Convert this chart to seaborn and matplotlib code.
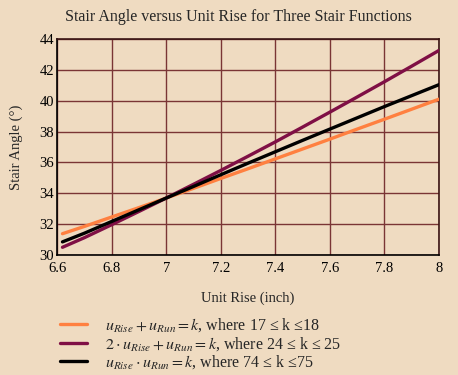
import matplotlib
matplotlib.use("Agg")
import matplotlib.pyplot as plt
import seaborn as sns
import pandas as pd
from matplotlib.lines import Line2D

# ---- data ----
unit_rise = [6.62, 6.7, 6.8, 6.9, 7.0, 7.1, 7.2, 7.3, 7.4, 7.5, 7.6, 7.7, 7.8, 7.9, 8.0]
angle_sum = [31.38, 31.85, 32.46, 33.07, 33.69, 34.32, 34.96, 35.59, 36.23, 36.87,
             37.51, 38.16, 38.80, 39.45, 40.10]
angle_double = [30.50, 31.12, 31.96, 32.82, 33.69, 34.58, 35.48, 36.40, 37.33, 38.29,
                39.26, 40.24, 41.23, 42.24, 43.26]
angle_product = [30.85, 31.41, 32.17, 32.93, 33.69, 34.44, 35.20, 35.95, 36.69, 37.43,
                 38.16, 38.89, 39.62, 40.33, 41.04]
series_names = ["sum", "double", "product"]
series_labels = [
    r"$u_{Rise}+u_{Run}=k$, where 17 ≤ k ≤18",
    r"$2\cdot u_{Rise}+u_{Run}=k$, where 24 ≤ k ≤ 25",
    r"$u_{Rise}\cdot u_{Run}=k$, where 74 ≤ k ≤75",
]
x_ticks = [6.6, 6.8, 7.0, 7.2, 7.4, 7.6, 7.8, 8.0]
x_tick_labels = ["6.6", "6.8", "7", "7.2", "7.4", "7.6", "7.8", "8"]
y_ticks = [30, 32, 34, 36, 38, 40, 42, 44]

colors = ["#FF8040", "#7F0F45", "#000000"]
bg = "#EFDBC1"
grid_c = "#7A3535"

df = pd.DataFrame({
    "rise": unit_rise * 3,
    "angle": angle_sum + angle_double + angle_product,
    "series": [series_names[0]] * len(unit_rise) + [series_names[1]] * len(unit_rise)
              + [series_names[2]] * len(unit_rise),
})

sns.set_theme(style="white")
plt.rcParams["font.family"] = ["Liberation Serif", "DejaVu Serif"]
plt.rcParams["mathtext.fontset"] = "stix"

fig = plt.figure(figsize=(4.58, 3.75), dpi=100, facecolor=bg)
ax = fig.add_axes([0.1245, 0.32, 0.834, 0.576])
ax.set_facecolor(bg)

sns.lineplot(data=df, x="rise", y="angle", hue="series", palette=dict(zip(series_names, colors)),
             linewidth=2.4, ax=ax, legend=False, zorder=3)

ax.set_xlim(6.6, 8.0)
ax.set_ylim(30, 44)
ax.set_xticks(x_ticks)
ax.set_xticklabels(x_tick_labels)
ax.set_yticks(y_ticks)
ax.grid(True, color=grid_c, linewidth=1.0)
ax.tick_params(length=0, labelsize=10.5, colors="black")
ax.tick_params(axis="x", pad=5)
ax.tick_params(axis="y", pad=2)
for s in ["left", "bottom"]:
    ax.spines[s].set_color("black")
    ax.spines[s].set_linewidth(1.2)
for s in ["top", "right"]:
    ax.spines[s].set_color("#3A1515")
    ax.spines[s].set_linewidth(1.2)

ax.set_xlabel("Unit Rise (inch)", fontsize=10.5, labelpad=12)
ax.set_ylabel("Stair Angle (°)", fontsize=10.5, labelpad=12)
fig.text(0.52, 0.955, "Stair Angle versus Unit Rise for Three Stair Functions",
         ha="center", va="center", fontsize=11.5)

handles = [Line2D([0], [0], color=c, linewidth=2.4) for c in colors]
fig.legend(handles, series_labels, loc="upper left", bbox_to_anchor=(0.117, 0.173),
           frameon=False, fontsize=11.5, handlelength=1.7, handletextpad=1.1,
           labelspacing=0.05, borderaxespad=0)

fig.savefig("out.png", dpi=100, facecolor=bg)
